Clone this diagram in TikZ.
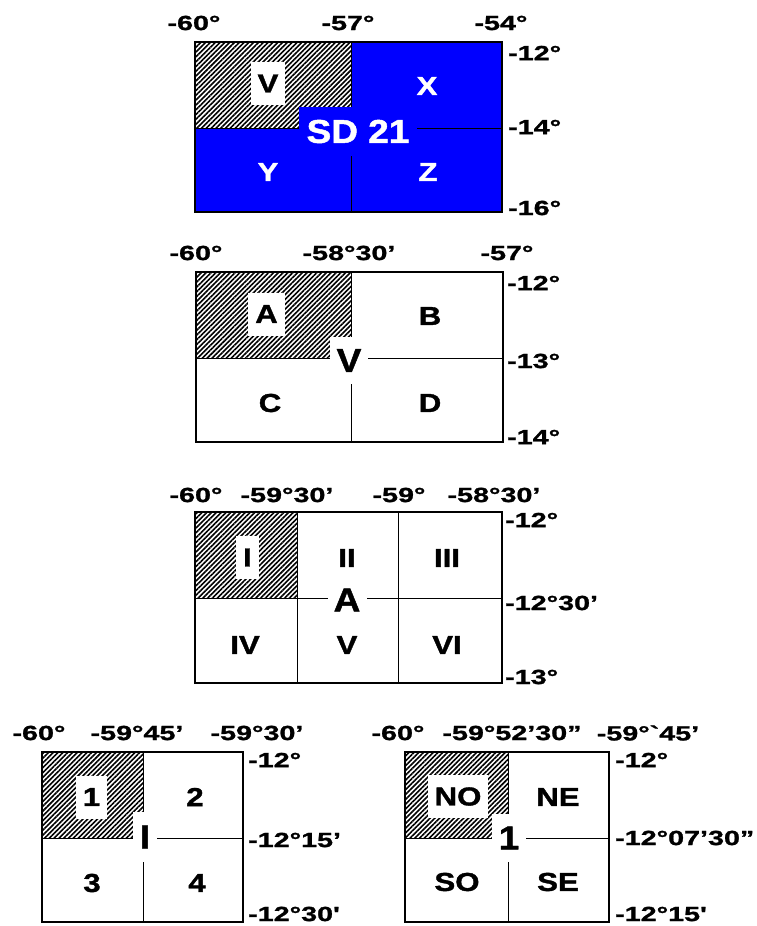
\documentclass[tikz,border=0pt]{standalone}
\usepackage{fontspec}
\setmainfont{Liberation Sans}
\newfontfamily\degfont[FakeStretch=1.4,FakeBold=1.2]{Liberation Sans}
\newfontfamily\cellfont[FakeStretch=1.2,FakeBold=1.4]{Liberation Sans}
\newfontfamily\keyfont[FakeStretch=1.12,FakeBold=1.4]{Liberation Sans}
\usepackage{tikz}
\usetikzlibrary{patterns.meta}
\definecolor{sheetblue}{RGB}{0,0,255}
\tikzset{
  frame/.style={draw=black, line width=2.5pt},
  gridline/.style={draw=black, line width=1pt},
  hatched/.style={pattern={Lines[angle=45,distance=3.4pt,line width=1.6pt]}}
}

\begin{document}
\begin{tikzpicture}[
  x=1pt, y=-1pt,
  degl/.style={font=\degfont\bfseries\fontsize{20.5}{22}\selectfont, inner sep=0pt},
  degr/.style={degl, anchor=west},
  cell/.style={font=\cellfont\bfseries\fontsize{26}{28}\selectfont, inner sep=0pt},
  cellbox/.style={cell, fill=white, inner xsep=7pt, minimum height=43pt},
  key/.style={font=\keyfont\bfseries\fontsize{33}{36}\selectfont, fill=white, inner sep=0pt}
]
\useasboundingbox (0,0) rectangle (756,926);

% sheet SD 21
\fill[sheetblue] (195,42) rectangle (502,212);
\fill[white] (195,42) rectangle (351,128);
\fill[hatched] (195,42) rectangle (351,128);
\draw[gridline] (195,128) -- (502,128) (351,42) -- (351,212);
\draw[frame] (195,42) rectangle (502,212);
\node[key, fill=sheetblue, text=white, minimum width=118pt, minimum height=49pt] (sd) at (358,131.5) {SD 21};
\node[cellbox] (sdV) at (268,83.5) {V};
\node[cell, text=white] (sdX) at (427,86) {X};
\node[cell, text=white] (sdY) at (268,172) {Y};
\node[cell, text=white] (sdZ) at (428,172) {Z};
\node[degl] (sdW) at (194,23) {-60°};
\node[degl] (sdM) at (348,23) {-57°};
\node[degl] (sdE) at (501,23) {-54°};
\node[degr] (sdN) at (508,53) {-12°};
\node[degr] (sdC) at (508,127) {-14°};
\node[degr] (sdS) at (508,208) {-16°};

% sheet V
\fill[hatched] (196,272) rectangle (351,358);
\draw[gridline] (196,358) -- (503,358) (351,272) -- (351,442);
\draw[frame] (196,272) rectangle (503,442);
\node[key, minimum width=38pt, minimum height=47pt] (v) at (349,360.5) {V};
\node[cellbox] (vA) at (266.5,314) {A};
\node[cell] (vB) at (430,316) {B};
\node[cell] (vC) at (270,403) {C};
\node[cell] (vD) at (430,403) {D};
\node[degl] (vW) at (196,253) {-60°};
\node[degl] (vM) at (349,253) {-58°30’};
\node[degl] (vE) at (507,253) {-57°};
\node[degr] (vN) at (507,283) {-12°};
\node[degr] (vC2) at (507,361) {-13°};
\node[degr] (vS) at (507,437) {-14°};

% sheet A
\fill[hatched] (195,512) rectangle (297,598);
\draw[gridline] (195,598) -- (502,598) (297,512) -- (297,683) (398,512) -- (398,683);
\draw[frame] (195,512) rectangle (502,683);
\node[key, minimum width=39pt, minimum height=40pt] (a) at (347,600) {A};
\node[cellbox] (aI) at (247.5,557.5) {I};
\node[cell] (aII) at (347,558) {II};
\node[cell] (aIII) at (447,558) {III};
\node[cell] (aIV) at (245,645) {IV};
\node[cell] (aV) at (347,645) {V};
\node[cell] (aVI) at (447,645) {VI};
\node[degl] (aW) at (196,495) {-60°};
\node[degl] (aM1) at (287,495) {-59°30’};
\node[degl] (aM2) at (399,495) {-59°};
\node[degl] (aE) at (494,495) {-58°30’};
\node[degr] (aN) at (505,520) {-12°};
\node[degr] (aC) at (505,603) {-12°30’};
\node[degr] (aS) at (505,677) {-13°};

% sheet I
\fill[hatched] (42,752) rectangle (143,838);
\draw[gridline] (42,838) -- (243,838) (143,752) -- (143,922);
\draw[frame] (42,752) rectangle (243,922);
\node[key, minimum width=24pt, minimum height=50pt] (i) at (145,837) {I};
\node[cellbox] (i1) at (91.5,797) {1};
\node[cell] (i2) at (195,797) {2};
\node[cell] (i3) at (92,883) {3};
\node[cell] (i4) at (197,883) {4};
\node[degl] (iW) at (39,733) {-60°};
\node[degl] (iM) at (137,733) {-59°45’};
\node[degl] (iE) at (257,733) {-59°30’};
\node[degr] (iN) at (248,760) {-12°};
\node[degr] (iC) at (248,840) {-12°15’};
\node[degr] (iS) at (248,914) {-12°30'};

% sheet 1
\fill[hatched] (405,752) rectangle (508,838);
\draw[gridline] (405,838) -- (609,838) (508,752) -- (508,922);
\draw[frame] (405,752) rectangle (609,922);
\node[key, minimum width=34pt, minimum height=48pt] (one) at (509,838) {1};
\node[cellbox] (oneNO) at (458,796.5) {NO};
\node[cell] (oneNE) at (558,797) {NE};
\node[cell] (oneSO) at (457,882) {SO};
\node[cell] (oneSE) at (558,882) {SE};
\node[degl] (oneW) at (398,733) {-60°};
\node[degl] (oneM) at (512,733) {-59°52’30”};
\node[degl] (oneE) at (648,733) {-59°`45’};
\node[degr] (oneN) at (615,760) {-12°};
\node[degr] (oneC) at (615,838) {-12°07’30”};
\node[degr] (oneS) at (615,914) {-12°15'};
\end{tikzpicture}
\end{document}
